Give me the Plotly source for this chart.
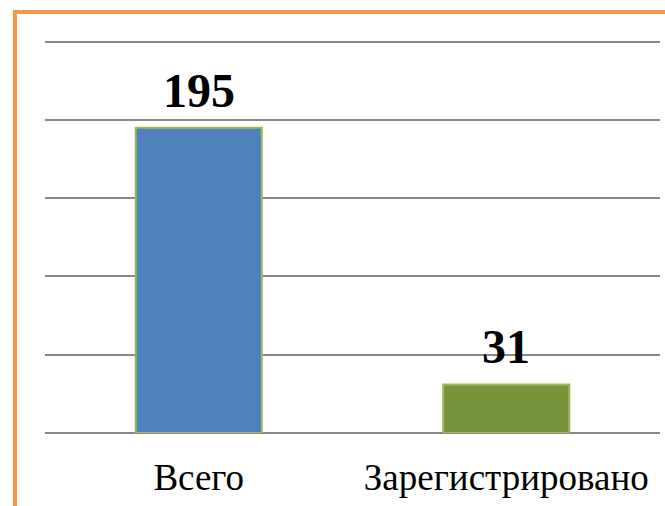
import plotly.graph_objects as go

categories = ["Всего", "Зарегистрировано"]
values = [195, 31]
bar_colors = ["#4F81BD", "#77933C"]
y_ticks = [0, 50, 100, 150, 200, 250]

SERIF = "Liberation Serif, Times New Roman, DejaVu Serif, serif"

fig = go.Figure()
fig.add_trace(go.Bar(
    x=categories, y=values,
    marker=dict(color=bar_colors, line=dict(color="#9BBB59", width=2)),
    width=0.41,
    hoverinfo="skip",
))

for c, v in zip(categories, values):
    fig.add_annotation(
        x=c, y=v, text=f"<b>{v}</b>", showarrow=False,
        yanchor="bottom", yshift=9,
        font=dict(family=SERIF, size=48, color="#000000"),
    )

fig.update_layout(
    width=665, height=506,
    margin=dict(l=45, r=5, t=37, b=73),
    paper_bgcolor="white", plot_bgcolor="white",
    showlegend=False,
    xaxis=dict(
        showgrid=False, showline=False, zeroline=False,
        ticks="outside", ticklen=12, tickcolor="rgba(0,0,0,0)",
        tickfont=dict(family=SERIF, size=37, color="#000000"),
    ),
    yaxis=dict(
        range=[0, 253], tickvals=y_ticks, showticklabels=False,
        showgrid=True, gridcolor="#888888", gridwidth=2,
        zeroline=True, zerolinecolor="#888888", zerolinewidth=2,
        showline=False,
    ),
    shapes=[dict(
        type="rect", xref="paper", yref="paper",
        x0=-0.0488, x1=1.3, y0=-0.5, y1=1.0631,
        line=dict(color="#F79646", width=4), layer="above",
    )],
)

fig.write_html("out.html", config={"displayModeBar": False},
               post_script="document.body.style.margin='0';")
